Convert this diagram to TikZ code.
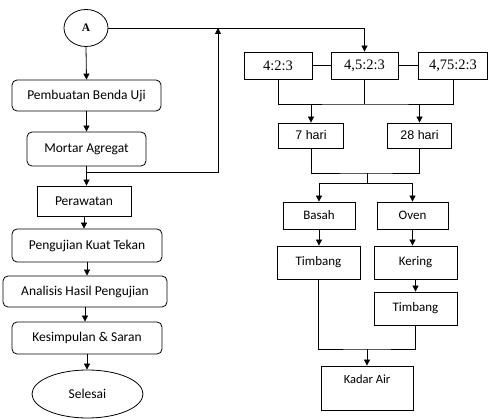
\documentclass[tikz,border=0pt]{standalone}
\usepackage{fontspec}
\setmainfont{Carlito}
\newfontfamily\timesf{Liberation Serif}
\newfontfamily\arialf{Liberation Sans}
\usepackage{tikz}
\usetikzlibrary{shapes,arrows,positioning,calc,arrows.meta}

\begin{document}
\begin{tikzpicture}[x=1pt,y=-1pt,line width=0.8pt,
        arr/.style={-{Triangle[length=6pt,width=6pt]}},
        rbox/.style={draw,rounded corners=5pt,inner sep=0pt,font=\fontsize{13.5}{15}\selectfont},
        sbox/.style={draw,inner sep=0pt,font=\fontsize{13}{15}\selectfont},
        ratio/.style={draw,inner sep=0pt,minimum height=27pt,font=\timesf\fontsize{14.5}{16}\selectfont},
        day/.style={draw,inner sep=0pt,minimum width=64.5pt,minimum height=25pt,font=\arialf\fontsize{12.5}{14}\selectfont}]
        \useasboundingbox (0,0) rectangle (488,419);
        % kolom kiri
        \node[draw,ellipse,inner sep=0pt,minimum width=44pt,minimum height=37pt,font=\timesf\bfseries\fontsize{11.5}{13}\selectfont] (A) at (86,28) {A};
        \node[rbox,minimum width=149pt,minimum height=31pt] (pembuatan) at (86.5,95.5) {Pembuatan Benda Uji};
        \node[rbox,minimum width=119pt,minimum height=34pt] (mortar) at (86.5,149) {Mortar Agregat};
        \node[sbox,minimum width=94pt,minimum height=30pt,font=\fontsize{13.5}{15}\selectfont] (perawatan) at (84,201) {Perawatan};
        \node[rbox,minimum width=150pt,minimum height=33pt] (pengujian) at (87,245.5) {Pengujian Kuat Tekan};
        \node[rbox,minimum width=164pt,minimum height=31pt] (analisis) at (85,291.5) {Analisis Hasil Pengujian};
        \node[rbox,minimum width=150pt,minimum height=32pt] (kesimpulan) at (87,338) {Kesimpulan \& Saran};
        \node[draw,ellipse,inner sep=0pt,minimum width=111pt,minimum height=48pt,font=\fontsize{13.5}{15}\selectfont] (selesai) at (87.5,394) {Selesai};
        % kolom kanan
        \node[ratio,minimum width=68pt] (r1) at (278,65.5) {4:2:3};
        \node[ratio,minimum width=67pt] (r2) at (364.5,65.5) {4,5:2:3};
        \node[ratio,minimum width=69pt] (r3) at (453,65.5) {4,75:2:3};
        \node[day] (hari7) at (311,135.5) {7 hari};
        \node[day] (hari28) at (419.5,135.5) {28 hari};
        \node[sbox,minimum width=72pt,minimum height=27pt] (basah) at (319,215.5) {Basah};
        \node[sbox,minimum width=71pt,minimum height=27pt] (oven) at (412.5,215.5) {Oven};
        \node[sbox,minimum width=83pt,minimum height=33pt] (timbang1) at (318.5,262.5) {Timbang};
        \node[sbox,minimum width=83pt,minimum height=33pt] (kering) at (415.5,262.5) {Kering};
        \node[sbox,minimum width=83pt,minimum height=33pt] (timbang2) at (415.5,308.5) {Timbang};
        \node[draw,inner sep=0pt,minimum width=92pt,minimum height=44pt] (kadar) at (367,388) {};
        \node[inner sep=0pt,font=\fontsize{12.5}{14}\selectfont] (kadartxt) at ($(kadar.north)+(0,14)$) {Kadar Air};
        \coordinate (balik) at (218,28);
        \coordinate (j1) at ($(mortar.south)+(0,6)$);
        \coordinate (b1) at (364.5,104);
        \coordinate (b2) at (367,173);
        \coordinate (b3) at (367,183);
        \coordinate (b4) at (367,349);
        % alur kiri
        \draw[arr] (A.south) -- (pembuatan.north);
        \draw[arr] (pembuatan.south) -- (pembuatan.south |- mortar.north);
        \draw (mortar.south) -- (j1);
        \draw[arr] (j1) -- (j1 |- perawatan.north);
        \draw[arr] (j1) -| (balik);
        \draw[arr] (perawatan.south) -- (perawatan.south |- pengujian.north);
        \draw[arr] (pengujian.south) -- (pengujian.south |- analisis.north);
        \draw[arr] (analisis.south) -- (analisis.south |- kesimpulan.north);
        \draw[arr] (kesimpulan.south) -- (kesimpulan.south |- selesai.north);
        % alur kanan
        \draw[arr] (A.east) -| (r2.north);
        \draw (r1) -- (r2);
        \draw (r2) -- (r3);
        \draw (r1.south) |- (b1) -| (r3.south);
        \draw (r2.south) -- (b1);
        \draw[arr] (hari7.north |- b1) -- (hari7.north);
        \draw[arr] (hari28.north |- b1) -- (hari28.north);
        \draw (hari7.south) |- (b2) -| (hari28.south);
        \draw (b2) -- (b3);
        \draw[arr] (b3) -| (basah.north);
        \draw[arr] (b3) -| (oven.north);
        \draw[arr] (basah.south) -- (basah.south |- timbang1.north);
        \draw[arr] (oven.south) -- (oven.south |- kering.north);
        \draw[arr] (kering.south) -- (timbang2.north);
        \draw (timbang1.south) |- (b4) -| (timbang2.south);
        \draw[arr] (b4) -- (kadar.north);
    \end{tikzpicture}
\end{document}
